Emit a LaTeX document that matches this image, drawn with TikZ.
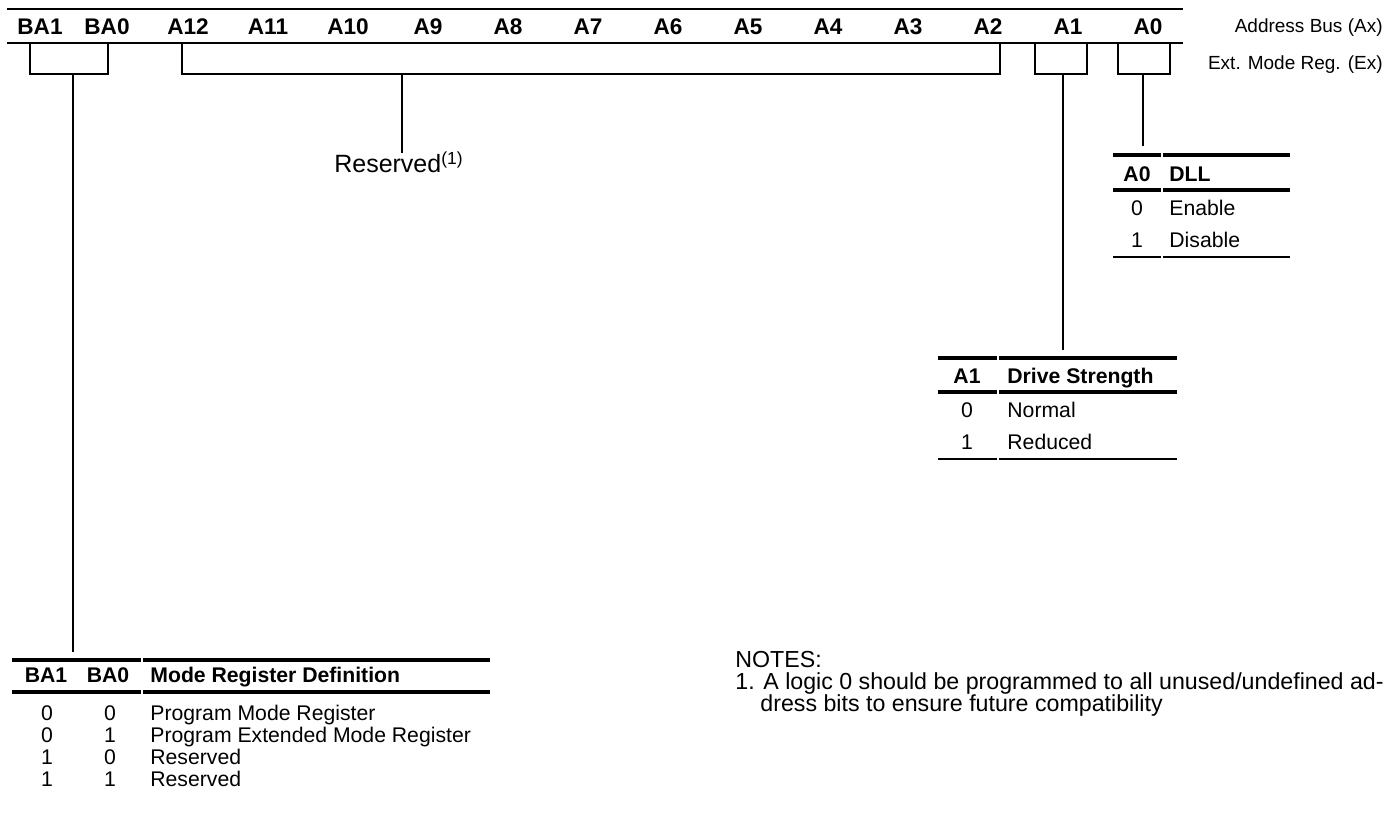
\documentclass[tikz,border=0pt]{standalone}
\usepackage{fontspec}
\setmainfont{Liberation Sans}
\usepackage{tikz}

\begin{document}
\begin{tikzpicture}[x=0.5pt,y=-0.5pt,
    bit/.style={font=\fontsize{11.3}{12}\selectfont\bfseries, inner sep=0pt, anchor=base},
    side/.style={font=\fontsize{9.5}{11}\selectfont, inner sep=0pt, anchor=base east},
    cell/.style={font=\fontsize{10.6}{12}\selectfont, inner sep=0pt, anchor=base},
    cellw/.style={cell, anchor=base west},
    cellhd/.style={font=\fontsize{10.6}{12}\selectfont\bfseries, inner sep=0pt, anchor=base},
    cellhdw/.style={cellhd, anchor=base west},
    note/.style={font=\fontsize{11.6}{13}\selectfont, inner sep=0pt, anchor=base west},
    busline/.style={line width=1.3pt},
    rulethick/.style={line width=2pt},
    rulethin/.style={line width=0.7pt},
    brk/.style={line width=0.6pt},
    wire/.style={line width=0.6pt}]
    \useasboundingbox (0,0) rectangle (1400,822);

    \draw[busline] (7,9) -- (1183,9);
    \draw[busline] (7,43) -- (1183,43);
    \node[bit] (BA1) at (40,35) {BA1};
    \node[bit] (BA0) at (107,35) {BA0};
    \foreach \i in {0,...,12}
        \node[bit] (A\i) at ({1148-80*\i},35) {A\i};
    \node[side] (busname) at (1383,33) {Address Bus (Ax)};
    \node[side] (regname) at (1383,70) {Ext. Mode Reg. (Ex)};

    \draw[brk] (30,44) -- (30,74) -- (108,74) -- (108,44);
    \draw[brk] (182,44) -- (182,74) -- (1000,74) -- (1000,44);
    \draw[brk] (1035,44) -- (1035,74) -- (1087,74) -- (1087,44);
    \draw[brk] (1118,44) -- (1118,74) -- (1170,74) -- (1170,44);
    \coordinate (baTap) at (73,74);
    \coordinate (rsvTap) at (402,74);
    \coordinate (a1Tap) at (1063,74);
    \coordinate (a0Tap) at (1143,74);

    \node[font=\fontsize{12.5}{14}\selectfont, inner sep=0pt, anchor=base] (rsv) at (399,173) {Reserved\textsuperscript{(1)}};
    \coordinate (rsvEnd) at (402,153);
    \draw[wire] (rsvTap) -- (rsvEnd);

    \draw[rulethick] (1113,155) -- (1161,155);
    \draw[rulethick] (1163,155) -- (1290,155);
    \draw[rulethick] (1113,190) -- (1161,190);
    \draw[rulethick] (1163,190) -- (1290,190);
    \draw[rulethin] (1113,257) -- (1161,257);
    \draw[rulethin] (1163,257) -- (1290,257);
    \node[cellhd] (dllA0) at (1137,182) {A0};
    \node[cellhdw] (dllHd) at (1169,182) {DLL};
    \node[cell] (dll0) at (1137,216) {0};
    \node[cellw] (dll0t) at (1169,216) {Enable};
    \node[cell] (dll1) at (1137,248) {1};
    \node[cellw] (dll1t) at (1169,248) {Disable};
    \coordinate (dllTop) at (1143,146);
    \draw[wire] (a0Tap) -- (dllTop);

    \draw[rulethick] (938,358) -- (997,358);
    \draw[rulethick] (999,358) -- (1177,358);
    \draw[rulethick] (938,392) -- (997,392);
    \draw[rulethick] (999,392) -- (1177,392);
    \draw[rulethin] (938,459) -- (997,459);
    \draw[rulethin] (999,459) -- (1177,459);
    \node[cellhd] (drvA1) at (967,384) {A1};
    \node[cellhdw] (drvHd) at (1007,384) {Drive Strength};
    \node[cell] (drv0) at (967,418) {0};
    \node[cellw] (drv0t) at (1007,418) {Normal};
    \node[cell] (drv1) at (967,450) {1};
    \node[cellw] (drv1t) at (1007,450) {Reduced};
    \coordinate (drvTop) at (1063,350);
    \draw[wire] (a1Tap) -- (drvTop);

    \draw[rulethick] (12,660) -- (141,660);
    \draw[rulethick] (143,660) -- (490,660);
    \draw[rulethick] (12,692) -- (141,692);
    \draw[rulethick] (143,692) -- (490,692);
    \node[cellhd] (modeB1) at (46,682) {BA1};
    \node[cellhd] (modeB0) at (108,682) {BA0};
    \node[cellhdw] (modeHd) at (150,682) {Mode Register Definition};
    \node[cell] (m00a) at (47,720) {0};
    \node[cell] (m00b) at (110,720) {0};
    \node[cellw] (m00t) at (150,720) {Program Mode Register};
    \node[cell] (m01a) at (47,742) {0};
    \node[cell] (m01b) at (110,742) {1};
    \node[cellw] (m01t) at (150,742) {Program Extended Mode Register};
    \node[cell] (m10a) at (47,764) {1};
    \node[cell] (m10b) at (110,764) {0};
    \node[cellw] (m10t) at (150,764) {Reserved};
    \node[cell] (m11a) at (47,786) {1};
    \node[cell] (m11b) at (110,786) {1};
    \node[cellw] (m11t) at (150,786) {Reserved};
    \coordinate (modeTop) at (73,652);
    \draw[wire] (baTap) -- (modeTop);

    \node[note] (notesHd) at (735,667) {NOTES:};
    \node[note] (note1a) at (735,689) {1. A logic 0 should be programmed to all unused/undefined ad-};
    \node[note] (note1b) at (760,711) {dress bits to ensure future compatibility};
\end{tikzpicture}
\end{document}
